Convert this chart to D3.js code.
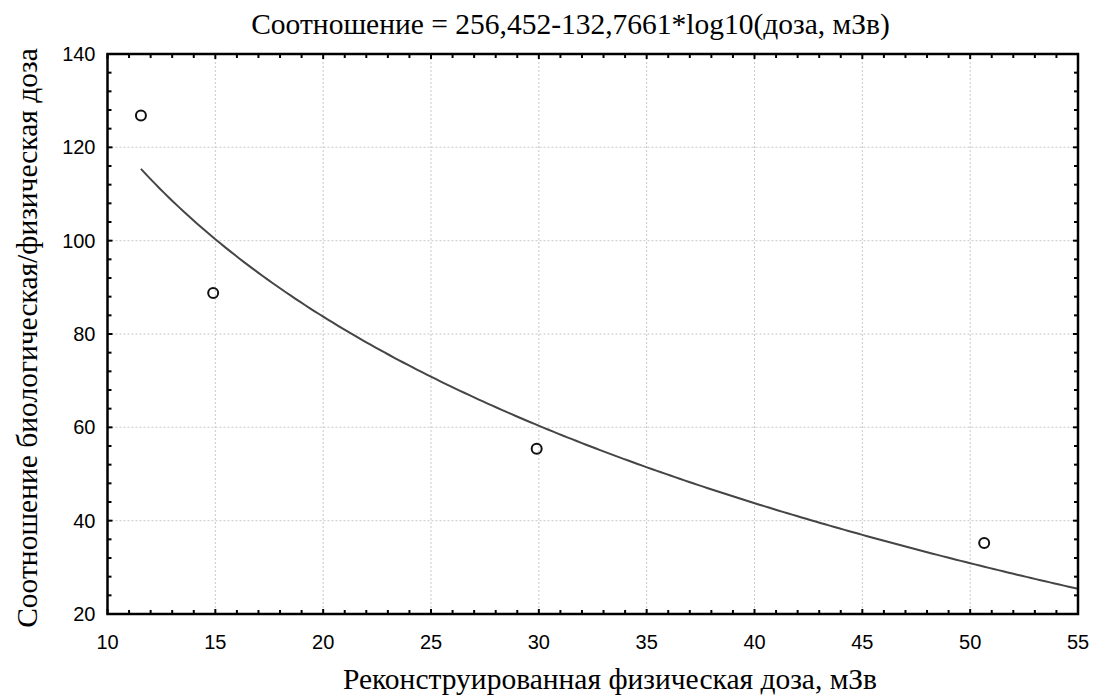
<!DOCTYPE html>
<html><head><meta charset="utf-8">
<script src="https://cdn.jsdelivr.net/npm/d3@7"></script>
<style>body{margin:0;background:#fff}</style>
</head><body>
<svg id="c" width="1094" height="699"></svg>
<script>
const pointX = [11.55, 14.9, 29.9, 50.65];
const pointY = [126.8, 88.8, 55.4, 35.2];
const xTicks = [10, 15, 20, 25, 30, 35, 40, 45, 50, 55];
const yTicks = [20, 40, 60, 80, 100, 120, 140];
const fitA = 256.452, fitB = 132.7661;
const fitRange = [11.55, 55];
const titleText = "Соотношение = 256,452-132,7661*log10(доза, мЗв)";
const xTitle = "Реконструированная физическая доза, мЗв";
const yTitle = "Соотношение биологическая/физическая доза";

const svg = d3.select("#c");
const L = 107.5, R = 1078, T = 54, B = 614;
const x = d3.scaleLinear().domain([10, 55]).range([L, R]);
const y = d3.scaleLinear().domain([20, 140]).range([B, T]);

// grid
const g = svg.append("g");
g.selectAll(".gx").data(xTicks.slice(1, -1)).join("line")
  .attr("x1", d => x(d)).attr("x2", d => x(d)).attr("y1", T).attr("y2", B)
  .attr("stroke", "#c8c8c8").attr("stroke-width", 1).attr("stroke-dasharray", "2,2");
g.selectAll(".gy").data(yTicks.slice(1, -1)).join("line")
  .attr("y1", d => y(d)).attr("y2", d => y(d)).attr("x1", L).attr("x2", R)
  .attr("stroke", "#c8c8c8").attr("stroke-width", 1).attr("stroke-dasharray", "2,2");

// curve
const xs = d3.range(0, 201).map(i => fitRange[0] + (fitRange[1] - fitRange[0]) * i / 200);
const line = d3.line().x(d => x(d)).y(d => y(fitA - fitB * Math.log10(d)));
svg.append("path").datum(xs).attr("d", line).attr("fill", "none")
  .attr("stroke", "#454545").attr("stroke-width", 2);

// points
svg.selectAll(".pt").data(pointX).join("circle")
  .attr("cx", d => x(d)).attr("cy", (d, i) => y(pointY[i])).attr("r", 5)
  .attr("fill", "none").attr("stroke", "#111").attr("stroke-width", 2);

// axes with inward ticks
const minorX = d3.range(10, 56, 1);
const minorY = d3.range(20, 141, 4);
const axG = svg.append("g").attr("stroke", "#000").attr("stroke-width", 2);
minorX.forEach(v => {
  const len = (v % 5 === 0) ? 5 : 4;
  axG.append("line").attr("x1", x(v)).attr("x2", x(v)).attr("y1", B).attr("y2", B - len);
  axG.append("line").attr("x1", x(v)).attr("x2", x(v)).attr("y1", T).attr("y2", T + len);
});
minorY.forEach(v => {
  const len = (v % 20 === 0) ? 5 : 4;
  axG.append("line").attr("y1", y(v)).attr("y2", y(v)).attr("x1", L).attr("x2", L + len);
  axG.append("line").attr("y1", y(v)).attr("y2", y(v)).attr("x1", R).attr("x2", R - len);
});
svg.append("rect").attr("x", L).attr("y", T).attr("width", R - L).attr("height", B - T)
  .attr("fill", "none").attr("stroke", "#000").attr("stroke-width", 2.5);

// tick labels
svg.selectAll(".xl").data(xTicks).join("text")
  .attr("x", d => x(d)).attr("y", 649).attr("text-anchor", "middle")
  .attr("font-family", "Liberation Sans, Arial, sans-serif").attr("font-size", 20).text(d => d);
svg.selectAll(".yl").data(yTicks).join("text")
  .attr("x", 95.5).attr("y", d => y(d) + 7).attr("text-anchor", "end")
  .attr("font-family", "Liberation Sans, Arial, sans-serif").attr("font-size", 20).text(d => d);

// titles
svg.append("text").attr("x", 570.5).attr("y", 34).attr("text-anchor", "middle")
  .attr("font-family", "Liberation Serif, Times New Roman, serif").attr("font-size", 29.5).text(titleText);
svg.append("text").attr("x", 610).attr("y", 689).attr("text-anchor", "middle")
  .attr("font-family", "Liberation Serif, Times New Roman, serif").attr("font-size", 29.5).text(xTitle);
svg.append("text").attr("transform", "translate(37," + 338 + ") rotate(-90)").attr("text-anchor", "middle")
  .attr("font-family", "Liberation Serif, Times New Roman, serif").attr("font-size", 29.5).text(yTitle);
</script>
</body></html>
